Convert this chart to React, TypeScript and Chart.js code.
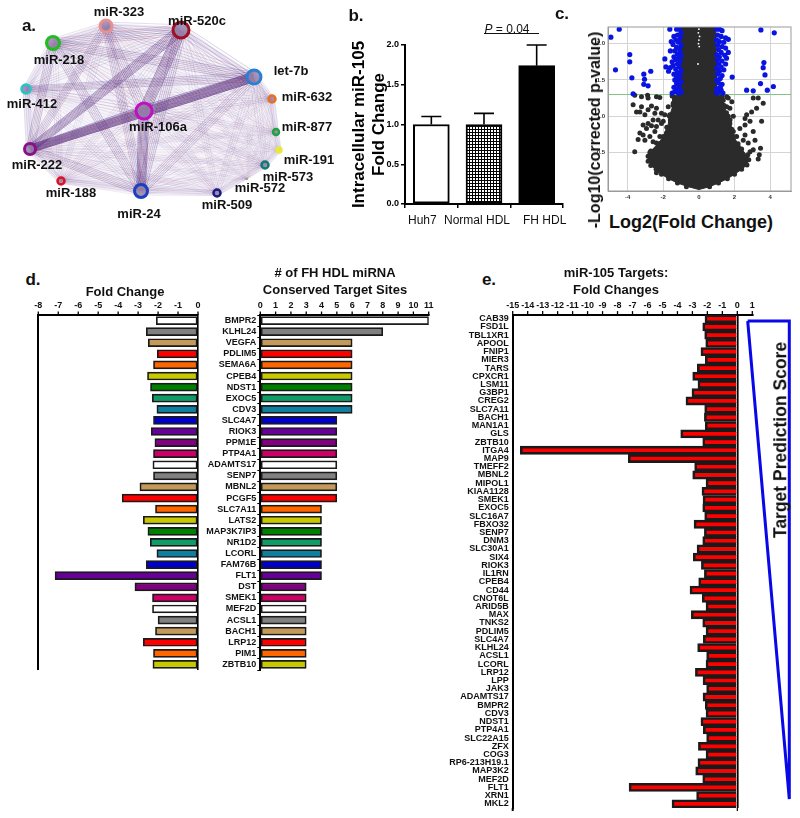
import React, { useEffect, useRef } from "react";
import { Chart, registerables } from "chart.js";
Chart.register(...registerables);
Chart.defaults.font.family = "'Liberation Sans', Arial, sans-serif";
Chart.defaults.color = "#000";

// ---------- panel a ----------
const nodeNames = ["miR-323","miR-520c","miR-218","let-7b","miR-412","miR-632","miR-106a","miR-877","miR-222","miR-191","miR-573","miR-572","miR-188","miR-24","miR-509"];
const nodeX = [106,181,53,254,26,272,144,276,30,279,265,247,61,141,217];
const nodeY = [26,30,43,77,89,99,111,132,149,150,165,179,181,191,193];
const nodeSize = [6,8,6.5,7,4.5,3.5,8,3,5.5,2.5,3.5,1,3.5,6.5,3.5];
const nodeWeight = [.68,.9,.72,1,.52,.32,1,.24,1,.16,.34,.1,.42,.82,.36];
const nodeColors = ["#e89090","#a01020","#22bb22","#2a80d0","#20c8c8","#e87020","#c010c0","#20a040","#8a108a","#e8e840","#107a70","#b0a040","#e01020","#1a40c0","#1a1a80"];
const labelX = [119,197,59,291,32,307,158,307,37,309,288,260,71,139,227];
const labelY = [12,21,60,71,104,97,127,127,165,160,177,188,193,214,205];
const hullOrder = ["miR-323","miR-520c","let-7b","miR-632","miR-877","miR-191","miR-573","miR-509","miR-24","miR-188","miR-222","miR-412","miR-218","miR-323"];
const strongEdges = [["miR-222","let-7b"],["miR-222","miR-106a"],["miR-106a","let-7b"],["miR-520c","miR-106a"],["miR-520c","miR-222"],["miR-106a","miR-24"]];
const mediumEdges = [["miR-520c","miR-218"],["miR-218","let-7b"],["miR-520c","miR-24"],["miR-24","let-7b"],["miR-323","miR-24"],["miR-218","miR-24"],["miR-323","miR-106a"],["miR-218","miR-222"],["miR-412","let-7b"],["miR-323","miR-222"],["miR-24","miR-222"]];

// ---------- panel b ----------
const bCategories = ["Huh7","Normal HDL","FH HDL"];
const bValues = [1.0,1.0,1.74];
const bErrorTops = [1.1,1.14,2.0];
const bLabelShift = [-9,-7,8];
const bTicks = [0,0.5,1,1.5,2];

// ---------- panel c ----------
const cMass = [[-1.05,2.23],[-1.05,1.3],[-1.5,1.28],[-1.45,1.15],[-1.65,1.0],[-1.75,0.85],[-2.0,0.72],[-2.3,0.62],[-2.7,0.52],[-2.85,0.42],[-2.7,0.32],[-2.4,0.27],[-2.1,0.2],[-1.7,0.14],[-1.2,0.08],[-0.6,0.03],[0,-0.01],[0.6,0.03],[1.1,0.08],[1.6,0.14],[2.0,0.2],[2.4,0.27],[2.7,0.33],[2.8,0.42],[2.4,0.55],[2.2,0.62],[1.95,0.72],[1.85,0.82],[1.75,0.95],[1.55,1.05],[1.4,1.15],[1.3,1.28],[1.0,1.3],[0.95,2.23]];
const cBlack = [[-3.6,1.29],[-3.22,1.27],[-2.88,1.29],[-2.85,1.25],[-2.38,1.27],[-2.19,1.26],[-3.69,1.16],[-3.22,1.13],[-2.66,1.14],[-2.85,1.09],[-2.38,1.11],[-3.31,1.06],[-3.5,1.06],[-3.03,1.02],[-2.47,1.04],[-2.1,1.04],[-1.91,1.02],[-2.57,0.95],[-2.28,0.95],[-2,0.93],[-2.85,0.9],[-3.13,0.88],[-2.66,0.87],[-2.38,0.86],[-2.94,0.83],[-2.47,0.79],[-2.1,0.9],[-1.72,1.13],[-1.63,1.02],[-1.54,0.88],[-3.31,0.77],[-3.13,0.74],[-3.41,0.68],[-2.75,0.72],[-3.03,0.67],[-1.82,0.77],[-2.19,0.72],[-1.72,0.67],[-2.38,0.63],[-2.57,0.65],[-3.6,0.51],[-2.75,0.5],[-2.66,0.44],[-2.38,0.22],[-1.44,1.18],
[1.56,1.27],[1.65,1.25],[1.37,1.22],[1.85,1.2],[1.56,1.13],[1.74,1.11],[3.05,1.25],[3.33,1.25],[3.61,1.18],[3.24,1.11],[2.96,1.06],[2.68,1.02],[2.59,0.97],[2.87,0.93],[2.3,0.83],[2.59,0.88],[1.93,1],[1.65,1],[1.74,0.9],[1.93,0.79],[2.12,0.72],[2.59,0.74],[3.05,0.79],[2.49,0.67],[2.77,0.63],[3.15,0.67],[2.21,0.58],[3.05,0.54],[3.46,0.56],[3.39,0.47],[3.33,0.41],[2.87,0.51],[3.52,0.93],
[-1.5,1.28],[-1.45,1.15],[-1.65,1],[-1.6,0.95],[-1.8,0.85],[-1.75,0.8],[-2,0.72],[-2.3,0.62],[-2.7,0.52],[-2.85,0.45],[-2.85,0.38],[-2.7,0.32],[-2.4,0.27],[-2.1,0.2],[-1.7,0.14],[-1.2,0.08],[-0.7,0.03],[0.6,0.03],[1.1,0.08],[1.6,0.14],[2,0.2],[2.4,0.27],[2.7,0.33],[2.8,0.4],[2.75,0.47],[2.4,0.55],[2.2,0.62],[1.95,0.72],[1.85,0.82],[1.75,0.95],[1.55,1.05],[1.4,1.15],[1.3,1.28]];
const cBlue = [[-4.94,2.09],[-4.47,2.2],[-3.88,1.85],[-3.88,1.75],[-4.68,1.64],[-3.76,1.53],[-3.09,1.58],[-2.7,1.62],[-3.05,1.51],[-3.09,1.44],[-2.85,1.42],[-3.69,1.31],[-1.91,1.79],[-1.85,1.68],[-1.63,2.2],
[3.48,2.19],[4.23,2.15],[3.65,1.74],[3.61,1.67],[3.71,1.57],[3.46,1.45],[4.18,1.41],[3.84,1.36],[2.68,1.36],[3.05,1.35],[1.87,1.54],
[-1.1,2.2],[-1.25,2.2],[-1,2.15],[-1.2,2.12],[-1.4,2.1],[-1.05,2.08],[-1.3,2.05],[-1.55,2.03],[-1.15,2.02],[-1,1.98],[-1.45,1.99],[-1.25,1.95],[-1.1,1.93],[-1.6,1.9],[-1.35,1.9],[-1.05,1.88],[-1.2,1.86],[-1,1.83],[-1.15,1.8],[-1.4,1.82],[-1.3,1.78],[-1.5,1.75],[-1.05,1.75],[-1.2,1.72],[-1.45,1.7],[-1.6,1.67],[-1.1,1.68],[-1.3,1.65],[-1,1.63],[-1.7,1.62],[-1.2,1.6],[-1.4,1.58],[-1.05,1.56],[-1.25,1.54],[-1.15,1.5],[-1,1.48],[-1.35,1.5],[-1.25,1.45],[-1.1,1.42],[-1.4,1.4],[-1.2,1.38],[-1.05,1.36],[-1.35,1.34],[-1.5,1.32],[-1.15,1.32],[-1,1.33],
[1,2.2],[1.15,2.2],[1.3,2.18],[1.05,2.12],[1.25,2.1],[1.5,2.08],[1,2.05],[1.15,2.03],[1.4,2.02],[1.65,2.06],[1.05,1.98],[1.3,1.96],[1.5,1.94],[1.1,1.92],[1.65,1.88],[1.25,1.88],[1,1.85],[1.45,1.84],[1.15,1.82],[1.55,1.8],[1.05,1.78],[1.3,1.76],[1.5,1.72],[1.1,1.72],[1.25,1.68],[1,1.66],[1.4,1.64],[1.15,1.62],[1.05,1.58],[1.3,1.56],[1.2,1.52],[1,1.5],[1.1,1.46],[1.3,1.44],[1.2,1.4],[1,1.38],[1.25,1.36],[1.1,1.33],[1.35,1.32],[1,1.32]];
const cSpecks = [[0,2.2],[-0.03,2.15],[0.04,2.1],[0,2.05],[-0.02,2.0],[0.02,1.96],[-0.05,1.72]];
const cXTicks = [-4,-2,0,2,4];
const cYTicks = [0.5,1,1.5,2];
const cPThreshold = 1.3;

// ---------- panel d ----------
const dGenes = ["BMPR2","KLHL24","VEGFA","PDLIM5","SEMA6A","CPEB4","NDST1","EXOC5","CDV3","SLC4A7","RIOK3","PPM1E","PTP4A1","ADAMTS17","SENP7","MBNL2","PCGF5","SLC7A11","LATS2","MAP3K7IP3","NR1D2","LCORL","FAM76B","FLT1","DST","SMEK1","MEF2D","ACSL1","BACH1","LRP12","PIM1","ZBTB10"];
const dFold = [-2.09,-2.59,-2.49,-2.04,-2.23,-2.53,-2.38,-2.29,-2.06,-2.23,-2.34,-2.16,-2.23,-2.26,-2.23,-2.91,-3.8,-2.13,-2.74,-2.51,-2.39,-2.06,-2.59,-7.16,-3.16,-2.28,-2.28,-2.0,-2.13,-2.74,-2.23,-2.26];
const dSites = [11,8,6,6,6,6,6,6,6,5,5,5,5,5,5,5,5,4,4,4,4,4,4,4,3,3,3,3,3,3,3,3];
const dPalette = ["#ffffff","#808080","#c49a5a","#ff0000","#ff6600","#c8c800","#008000","#109c68","#0f7f9f","#0000cc","#660099","#800080","#cc0066"];

// ---------- panel e ----------
const eGenes = ["CAB39","FSD1L","TBL1XR1","APOOL","FNIP1","MIER3","TARS","CPXCR1","LSM11","G3BP1","CREG2","SLC7A11","BACH1","MAN1A1","GLS","ZBTB10","ITGA4","MAP9","TMEFF2","MBNL2","MIPOL1","KIAA1128","SMEK1","EXOC5","SLC16A7","FBXO32","SENP7","DNM3","SLC30A1","SIX4","RIOK3","IL1RN","CPEB4","CD44","CNOT6L","ARID5B","MAX","TNKS2","PDLIM5","SLC4A7","KLHL24","ACSL1","LCORL","LRP12","LPP","JAK3","ADAMTS17","BMPR2","CDV3","NDST1","PTP4A1","SLC22A15","ZFX","COG3","RP6-213H19.1","MAP3K2","MEF2D","FLT1","XRN1","MKL2"];
const eFold = [-2.16,-2.31,-2.18,-2.11,-2.43,-2.14,-2.67,-2.98,-2.63,-3.03,-3.43,-2.18,-2.2,-2.14,-3.78,-2.31,-14.49,-7.28,-2.85,-2.98,-2.09,-2.36,-2.29,-2.31,-2.18,-2.89,-2.2,-2.31,-2.69,-2.94,-2.4,-2.2,-2.58,-3.16,-2.34,-2.09,-3.07,-2.31,-2.09,-2.27,-2.65,-2.05,-2.09,-2.8,-2.29,-2.05,-2.29,-2.14,-2.09,-2.43,-2.27,-2.05,-2.6,-2.09,-2.63,-2.78,-2.31,-7.23,-2.72,-4.36];
const triangleX = [7.7,49.3,49.3,7.7];
const triangleY = [6,6,484,6];

const BOLD = "bold";
const base: any = {
  responsive: false,
  animation: false,
  events: [],
  plugins: { legend: { display: false }, tooltip: { enabled: false } },
};
const toPts = (rows: number[][]) => rows.map(([x, y]) => ({ x, y }));
const fixWidth = (w: number) => (s: any) => { s.width = w; };
const fixHeight = (h: number) => (s: any) => { s.height = h; };

function networkConfig() {
  const datasets: any[] = [];
  datasets.push({
    type: "scatter",
    data: nodeX.map((x, i) => ({ x, y: nodeY[i] })),
    pointRadius: nodeSize,
    pointBorderWidth: nodeSize.map((r) => (r < 1.5 ? 0 : r > 5 ? 3 : 2.5)),
    pointBorderColor: nodeColors,
    pointBackgroundColor: nodeColors.map((c, i) => (nodeSize[i] < 3 ? c : "rgba(150,130,170,0.85)")),
  });
  const has = (list: string[][], a: string, b: string) =>
    list.some(([p, q]) => (p === a && q === b) || (p === b && q === a));
  const tints = ["60,35,125", "110,35,110", "55,55,160", "150,55,100", "80,35,120"];
  for (let i = 0; i < nodeX.length; i++) {
    for (let j = i + 1; j < nodeX.length; j++) {
      const strong = has(strongEdges, nodeNames[i], nodeNames[j]);
      const medium = has(mediumEdges, nodeNames[i], nodeNames[j]);
      const w = nodeWeight[i] * nodeWeight[j];
      const n = strong ? 9 : medium ? 6 : w > 0.2 ? 4 : 3;
      const dx = nodeX[j] - nodeX[i], dy = nodeY[j] - nodeY[i];
      const len = Math.hypot(dx, dy);
      const px = -dy / len, py = dx / len;
      for (let k = 0; k < n; k++) {
        const t = k / (n - 1) - 0.5;
        const oi = t * nodeSize[i] * 1.3, oj = t * nodeSize[j] * 1.3;
        const alpha = strong ? 0.5 : medium ? 0.36 : 0.06 + 0.28 * w;
        datasets.push({
          type: "line",
          data: [
            { x: nodeX[i] + px * oi, y: nodeY[i] + py * oi },
            { x: nodeX[j] + px * oj, y: nodeY[j] + py * oj },
          ],
          borderColor: `rgba(${tints[(i + j + k) % tints.length]},${alpha})`,
          borderWidth: strong ? 0.9 : 0.7,
          pointRadius: 0,
        });
      }
    }
  }
  datasets.push({
    type: "line",
    data: hullOrder.map((n) => {
      const i = nodeNames.indexOf(n);
      return { x: nodeX[i], y: nodeY[i] };
    }),
    borderColor: "rgba(170,150,200,0.18)",
    borderWidth: 6,
    backgroundColor: "rgba(175,160,210,0.10)",
    fill: "shape",
    pointRadius: 0,
  });
  return {
    type: "scatter",
    data: { datasets },
    options: {
      ...base,
      layout: { padding: 0, autoPadding: false },
      scales: {
        x: { type: "linear", display: false, min: 0, max: 340 },
        y: { type: "linear", display: false, min: 0, max: 220, reverse: true },
      },
    },
    plugins: [{
      id: "nodeLabels",
      afterDatasetsDraw(c: any) {
        const ctx = c.ctx;
        ctx.save();
        ctx.font = "bold 13px 'Liberation Sans'";
        ctx.fillStyle = "#111";
        ctx.textAlign = "center";
        ctx.textBaseline = "middle";
        nodeNames.forEach((n, i) =>
          ctx.fillText(n, c.scales.x.getPixelForValue(labelX[i]), c.scales.y.getPixelForValue(labelY[i])));
        ctx.restore();
      },
    }],
  };
}

function hatch() {
  const p = document.createElement("canvas");
  p.width = 3; p.height = 3;
  const g = p.getContext("2d")!;
  g.fillStyle = "#fff"; g.fillRect(0, 0, 3, 3);
  g.fillStyle = "#000"; g.fillRect(0, 0, 3, 1); g.fillRect(0, 0, 1, 3);
  return g.createPattern(p, "repeat");
}

function barConfig() {
  return {
    type: "bar",
    data: {
      labels: bCategories,
      datasets: [{
        data: bValues,
        backgroundColor: ["#fff", hatch(), "#000"],
        borderColor: "#000",
        borderWidth: 2,
        borderSkipped: false,
        barThickness: 36,
      }],
    },
    options: {
      ...base,
      layout: { padding: { top: 45, right: 12, left: 0, bottom: 0 }, autoPadding: false },
      scales: {
        x: {
          afterFit: fixHeight(31),
          grid: { display: true, drawOnChartArea: false, color: "#000", lineWidth: 1.5, tickLength: 4 },
          border: { color: "#000", width: 2 },
          ticks: { display: false },
        },
        y: {
          min: 0, max: 2,
          afterFit: fixWidth(65),
          afterBuildTicks: (s: any) => { s.ticks = bTicks.map((value) => ({ value })); },
          grid: { display: true, drawOnChartArea: false, color: "#000", lineWidth: 1.5, tickLength: 4 },
          border: { color: "#000", width: 2 },
          ticks: { font: { size: 9, weight: BOLD }, padding: 2, callback: (v: any) => Number(v).toFixed(1) },
          title: { display: true, text: ["Intracellular miR-105", "Fold Change"], font: { size: 17, weight: BOLD, lineHeight: 1.18 }, padding: { top: 9, bottom: 0 }, color: "#000" },
        },
      },
    },
    plugins: [{
      id: "errAndLabels",
      afterDatasetsDraw(c: any) {
        const { ctx, scales: { x, y } } = c;
        ctx.save();
        ctx.strokeStyle = "#000";
        ctx.lineWidth = 1.6;
        bErrorTops.forEach((top, i) => {
          const px = x.getPixelForValue(i);
          ctx.beginPath();
          ctx.moveTo(px, y.getPixelForValue(bValues[i]));
          ctx.lineTo(px, y.getPixelForValue(top));
          ctx.moveTo(px - 10, y.getPixelForValue(top));
          ctx.lineTo(px + 10, y.getPixelForValue(top));
          ctx.stroke();
        });
        ctx.font = "12px 'Liberation Sans'";
        ctx.fillStyle = "#111";
        ctx.textAlign = "center";
        ctx.textBaseline = "middle";
        bCategories.forEach((t, i) => ctx.fillText(t, x.getPixelForValue(i) + bLabelShift[i], y.bottom + 16.5));
        ctx.restore();
      },
    }],
  };
}

function volcanoConfig() {
  const tickFont = { size: 6, weight: BOLD };
  return {
    type: "scatter",
    data: {
      datasets: [
        { data: toPts(cSpecks), pointRadius: 0.9, pointBackgroundColor: "#fff", pointBorderWidth: 0 },
        { data: toPts(cBlue), pointRadius: 2.6, pointBackgroundColor: "#0a14e0", pointBorderWidth: 0 },
        { data: toPts(cBlack), pointRadius: 2.5, pointBackgroundColor: "#2b2b2b", pointBorderWidth: 0 },
        { type: "line", data: toPts(cMass), pointRadius: 0, borderColor: "#2b2b2b", borderWidth: 1, backgroundColor: "#2b2b2b", fill: "shape" },
        { type: "line", data: [{ x: -5.1, y: cPThreshold }, { x: 5.17, y: cPThreshold }], pointRadius: 0, borderColor: "#86c386", borderWidth: 1 },
      ],
    },
    options: {
      ...base,
      layout: { padding: { top: 7, right: 9, left: 0, bottom: 0 }, autoPadding: false },
      scales: {
        x: {
          type: "linear", min: -5.1, max: 5.17,
          afterFit: fixHeight(9),
          afterBuildTicks: (s: any) => { s.ticks = cXTicks.map((value) => ({ value })); },
          grid: { color: "#d4d4d4", lineWidth: 1, drawTicks: false },
          border: { color: "#9a9a9a" },
          ticks: { font: tickFont, padding: 3, maxRotation: 0, color: "#333" },
        },
        y: {
          type: "linear", min: -0.03, max: 2.23,
          afterFit: fixWidth(18),
          afterBuildTicks: (s: any) => { s.ticks = cYTicks.map((value) => ({ value })); },
          grid: { color: "#d4d4d4", lineWidth: 1, drawTicks: false },
          border: { color: "#9a9a9a" },
          ticks: { font: tickFont, padding: 3, color: "#333" },
        },
      },
    },
    plugins: [{
      id: "frame",
      afterDraw(c: any) {
        const { ctx, chartArea: a } = c;
        ctx.save();
        ctx.strokeStyle = "#9a9a9a";
        ctx.strokeRect(a.left, a.top, a.right - a.left, a.bottom - a.top);
        ctx.restore();
      },
    }],
  };
}

function hbar(
  labels: string[], values: number[], colors: any, borderW: number, thickness: number, min: number, max: number,
  yWidth: number, xHeight: number, padRight: number, padBottom: number, showLabels: boolean, showTickMarks: boolean, fontSize: number, skipped: any, extra: any[] = [],
) {
  const axisGridColor = (ctx: any) => (ctx.tick && ctx.tick.value === 0 && min < 0 ? "#000" : "rgba(0,0,0,0)");
  return {
    type: "bar",
    data: {
      labels,
      datasets: [{ data: values, backgroundColor: colors, borderColor: "#1a1a1a", borderWidth: borderW, borderSkipped: skipped, barThickness: thickness }],
    },
    options: {
      ...base,
      indexAxis: "y",
      layout: { padding: { top: 0, right: padRight, left: 0, bottom: padBottom }, autoPadding: false },
      scales: {
        x: {
          position: "top", min, max,
          afterFit: fixHeight(xHeight),
          grid: { display: true, drawOnChartArea: true, drawTicks: false, color: axisGridColor, lineWidth: 1.6 },
          border: { color: "#000", width: 2 },
          ticks: { stepSize: 1, autoSkip: false, maxRotation: 0, font: { size: fontSize, weight: BOLD }, padding: 4, color: "#111" },
        },
        y: {
          afterFit: fixWidth(yWidth),
          grid: { display: showTickMarks, drawOnChartArea: false, color: "#000", tickLength: 3, lineWidth: 1 },
          border: { color: "#000", width: 2 },
          ticks: { display: showLabels, autoSkip: false, font: { size: fontSize, weight: BOLD }, padding: 1, color: "#111" },
        },
      },
    },
    plugins: [{
      id: "topTicks",
      afterDraw(c: any) {
        const { ctx, chartArea: a, scales: { x } } = c;
        ctx.save();
        ctx.strokeStyle = "#000";
        ctx.lineWidth = 1.3;
        x.ticks.forEach((t: any) => {
          const px = x.getPixelForValue(t.value);
          ctx.beginPath(); ctx.moveTo(px, a.top); ctx.lineTo(px, a.top - 3.5); ctx.stroke();
        });
        ctx.restore();
      },
    }, ...extra],
  };
}

function triangleConfig() {
  return {
    type: "scatter",
    data: {
      datasets: [{
        type: "line",
        data: triangleX.map((x, i) => ({ x, y: triangleY[i] })),
        borderColor: "#0808e8",
        borderWidth: 3,
        pointRadius: 0,
        borderJoinStyle: "miter",
      }],
    },
    options: {
      ...base,
      layout: { padding: 0, autoPadding: false },
      scales: {
        x: { type: "linear", display: false, min: 0, max: 60 },
        y: { type: "linear", display: false, min: 0, max: 490, reverse: true },
      },
    },
  };
}

const label = (text: any, x: number, y: number, size: number, bold = true, rot = 0) => (
  <div
    key={`${x}-${y}`}
    style={{
      position: "absolute", left: x, top: y,
      transform: `translate(-50%,-50%) rotate(${rot}deg)`,
      whiteSpace: "nowrap",
      font: `${bold ? "bold " : ""}${size}px 'Liberation Sans', Arial, sans-serif`,
      color: "#111", lineHeight: 1,
    }}
  >{text}</div>
);

const boxes = [
  { l: 0, t: 0, w: 340, h: 220 },
  { l: 340, t: 0, w: 235, h: 235 },
  { l: 590, t: 20, w: 210, h: 180 },
  { l: 20, t: 295, w: 186, h: 375 },
  { l: 200, t: 295, w: 240, h: 383 },
  { l: 440, t: 295, w: 322, h: 521 },
  { l: 740, t: 315, w: 60, h: 490 },
];

export default function App() {
  const refs = useRef<(HTMLCanvasElement | null)[]>([]);
  useEffect(() => {
    const extendAxis = {
      id: "extendAxis",
      afterDraw(c: any) {
        const { ctx, chartArea: a, scales: { x } } = c;
        ctx.save();
        ctx.strokeStyle = "#000";
        ctx.lineWidth = 2;
        ctx.beginPath(); ctx.moveTo(a.left, a.bottom); ctx.lineTo(a.left, a.bottom + 3); ctx.stroke();
        ctx.lineWidth = 1.2;
        const z = x.getPixelForValue(0);
        ctx.beginPath(); ctx.moveTo(z, a.bottom); ctx.lineTo(z, a.bottom + 3); ctx.stroke();
        ctx.restore();
      },
    };
    const dColors = dGenes.map((_, i) => dPalette[i % dPalette.length]);
    const configs: any[] = [
      networkConfig(),
      barConfig(),
      volcanoConfig(),
      hbar(dGenes, dFold, dColors, 1.7, 8, -8, 0, 18.3, 20, 8, 0, false, false, 9, false),
      hbar(dGenes, dSites, dColors, 1.7, 8, 0, 11, 60.3, 20, 11.3, 8, true, true, 9, false),
      hbar(eGenes, eFold, "#ff0000", 2.6, 8.2, -15, 1, 72.7, 19.6, 9.7, 8, true, false, 9, "start", [extendAxis]),
      triangleConfig(),
    ];
    const charts = configs.map((cfg, i) => new Chart(refs.current[i]!, cfg));
    return () => charts.forEach((c) => c.destroy());
  }, []);
  return (
    <div style={{ position: "absolute", left: 0, top: 0, width: 800, height: 818, background: "#fff", overflow: "hidden" }}>
      {boxes.map((b, i) => (
        <canvas
          key={i}
          ref={(el) => { refs.current[i] = el; }}
          width={b.w}
          height={b.h}
          style={{ position: "absolute", left: b.l, top: b.t, width: b.w, height: b.h, display: "block" }}
        />
      ))}
      {label("a.", 29, 25, 17)}
      {label("b.", 356, 15, 17)}
      {label("c.", 562, 13, 17)}
      {label("d.", 33, 279, 17)}
      {label("e.", 489, 279, 17)}
      {label(<span><i>P</i> = 0.04</span>, 507, 29, 12, false)}
      <div style={{ position: "absolute", left: 484, top: 33, width: 55, height: 1, background: "#111" }} />
      {label("-Log10(corrected p-value)", 595, 130, 16, true, -90)}
      {label("Log2(Fold Change)", 691, 222, 18)}
      {label("Fold Change", 125, 291, 13)}
      {label("# of FH HDL miRNA", 335, 272, 13)}
      {label("Conserved Target Sites", 335, 289, 13)}
      {label("miR-105 Targets:", 616, 272, 13)}
      {label("Fold Changes", 616, 289, 13)}
      {label("Target Prediction Score", 781, 440, 17.5, true, -90)}
    </div>
  );
}
